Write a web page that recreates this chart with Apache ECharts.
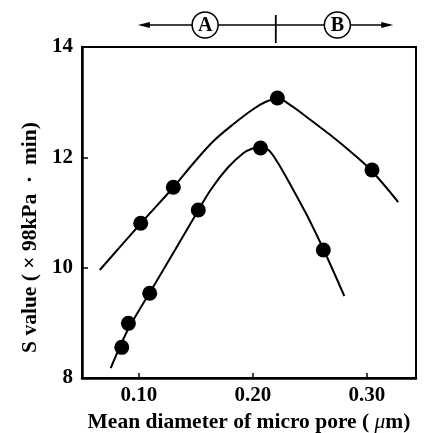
<!DOCTYPE html>
<html>
<head>
<meta charset="utf-8">
<script src="https://cdn.jsdelivr.net/npm/echarts@6/dist/echarts.min.js"></script>
<style>
html,body{margin:0;padding:0;background:#fff;}
#chart{width:426px;height:433px;}
</style>
</head>
<body>
<div id="chart"></div>
<script>
// ---- data ----
const upperCurve = [
  [0.0656, 9.958], [0.1015, 10.800], [0.1304, 11.462], [0.1479, 11.897], [0.1654, 12.296],
  [0.1829, 12.604], [0.2004, 12.876], [0.2109, 13.003], [0.2214, 13.066], [0.2328, 12.948],
  [0.2442, 12.776], [0.2679, 12.404], [0.2880, 12.060], [0.3046, 11.743], [0.3274, 11.190]
];
const lowerCurve = [
  [0.0752, 8.181], [0.0884, 8.798], [0.0997, 9.214], [0.1129, 9.668], [0.1321, 10.338],
  [0.1496, 10.954], [0.1628, 11.408], [0.1776, 11.806], [0.1917, 12.078], [0.1996, 12.160],
  [0.2066, 12.187], [0.2136, 12.133], [0.2214, 11.915], [0.2354, 11.408], [0.2477, 10.936],
  [0.2617, 10.338], [0.2801, 9.486]
];
const upperPoints = [[0.1015, 10.804], [0.1301, 11.457], [0.2214, 13.075], [0.3044, 11.770]];
const lowerPoints = [[0.0849, 8.556], [0.0907, 8.991], [0.1094, 9.535], [0.1520, 11.045], [0.2066, 12.169], [0.2617, 10.320]];
const xTickValues = [0.10, 0.20, 0.30];
const yTickValues = [8, 10, 12, 14];
const regionLabels = ['A', 'B'];
const regionCenters = [0.158, 0.274];
const regionDivider = 0.22;
const arrowEnds = [0.099, 0.323];

const FONT = 'Liberation Serif';
const chart = echarts.init(document.getElementById('chart'), null, {renderer: 'canvas'});

const lineStyle = {color: '#000', width: 2};
const option = {
  animation: false,
  backgroundColor: '#fff',
  grid: {left: 82, right: 10, top: 47, bottom: 55, outerBoundsMode: 'none', containLabel: false,
         show: true, borderColor: '#000', borderWidth: 2, backgroundColor: 'transparent'},
  xAxis: {
    type: 'value', min: 0.05, max: 0.343,
    name: '{a|Mean diameter of micro pore ( }{b|μ}{a|m)}',
    nameLocation: 'middle', nameGap: 33,
    nameTextStyle: {rich: {
      a: {fontFamily: FONT, fontWeight: 'bold', fontSize: 21.5, color: '#000'},
      b: {fontFamily: FONT, fontStyle: 'italic', fontSize: 21.5, color: '#000'}
    }},
    axisLine: {show: true, lineStyle: {color: '#000', width: 2.5}},
    axisTick: {show: true, inside: true, length: 5, customValues: xTickValues, lineStyle: {color: '#000', width: 1.5}},
    axisLabel: {customValues: xTickValues, formatter: v => v.toFixed(2), fontFamily: FONT, fontWeight: 'bold', fontSize: 21, color: '#000', margin: 7},
    splitLine: {show: false}
  },
  yAxis: {
    type: 'value', min: 8, max: 14, interval: 2,
    name: 'S value ( × 98kPa  ·  min)',
    nameLocation: 'middle', nameGap: 41,
    nameTextStyle: {fontFamily: FONT, fontWeight: 'bold', fontSize: 21.5, color: '#000', padding: [0, 50, 0, 0]},
    axisLine: {show: true, lineStyle: {color: '#000', width: 2.5}},
    axisTick: {show: true, inside: true, length: 6, customValues: yTickValues, lineStyle: {color: '#000', width: 1.5}},
    axisLabel: {customValues: yTickValues, fontFamily: FONT, fontWeight: 'bold', fontSize: 21, color: '#000', margin: 9},
    splitLine: {show: false}
  },
  series: [
    {type: 'line', data: upperCurve, smooth: 0.35, showSymbol: false, symbol: 'none', lineStyle: lineStyle, clip: true, z: 2},
    {type: 'line', data: lowerCurve, smooth: 0.35, showSymbol: false, symbol: 'none', lineStyle: lineStyle, clip: true, z: 2},
    {type: 'scatter', data: upperPoints, symbol: 'circle', symbolSize: 15, itemStyle: {color: '#000', opacity: 1}, z: 3},
    {type: 'scatter', data: lowerPoints, symbol: 'circle', symbolSize: 15, itemStyle: {color: '#000', opacity: 1}, z: 3}
  ]
};
chart.setOption(option);

// ---- top annotation (A | B regions), positioned via the x scale ----
function px(x) { return chart.convertToPixel({gridIndex: 0}, [x, 14])[0]; }
const gridTop = chart.convertToPixel({gridIndex: 0}, [0.1, 14])[1];
const yLine = gridTop - 22;
const r = 13;
const cA = px(regionCenters[0]), cB = px(regionCenters[1]);
const xL = px(arrowEnds[0]), xR = px(arrowEnds[1]), xD = px(regionDivider);
const thin = {stroke: '#000', lineWidth: 1.3};
const elements = [
  {type: 'line', shape: {x1: xL + 4, y1: yLine, x2: cA - r, y2: yLine}, style: thin},
  {type: 'line', shape: {x1: cA + r, y1: yLine, x2: cB - r, y2: yLine}, style: thin},
  {type: 'line', shape: {x1: cB + r, y1: yLine, x2: xR - 4, y2: yLine}, style: thin},
  {type: 'polygon', shape: {points: [[xL, yLine], [xL + 12, yLine - 3], [xL + 12, yLine + 3]]}, style: {fill: '#000'}},
  {type: 'polygon', shape: {points: [[xR, yLine], [xR - 12, yLine - 3], [xR - 12, yLine + 3]]}, style: {fill: '#000'}},
  {type: 'line', shape: {x1: xD, y1: yLine - 10, x2: xD, y2: gridTop - 4}, style: {stroke: '#000', lineWidth: 1.8}}
];
[cA, cB].forEach((c, i) => {
  elements.push({type: 'circle', shape: {cx: c, cy: yLine, r: r}, style: {fill: '#fff', stroke: '#000', lineWidth: 1.5}});
  elements.push({type: 'text', x: c, y: yLine + 1, style: {text: regionLabels[i], fontFamily: FONT, fontWeight: 'bold', fontSize: 20, fill: '#000', align: 'center', verticalAlign: 'middle'}});
});
chart.setOption({graphic: {elements: elements}});
</script>
</body>
</html>
